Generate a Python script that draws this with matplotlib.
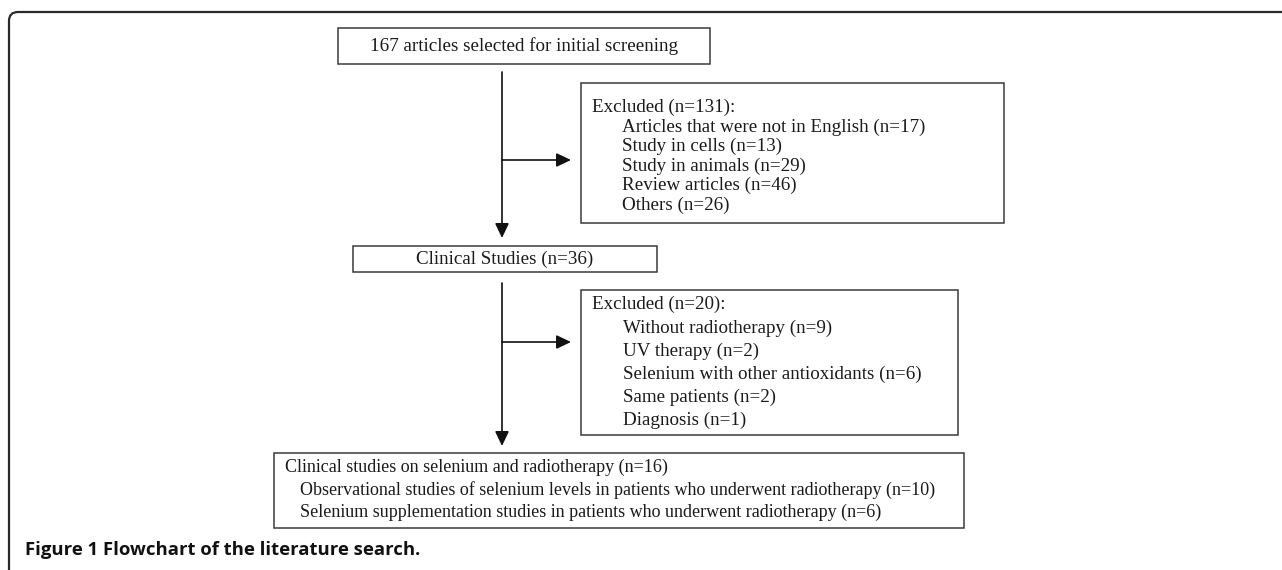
import matplotlib
matplotlib.use("Agg")
import matplotlib.pyplot as plt
from matplotlib.patches import Rectangle, FancyBboxPatch

# ---- content ----
top_text = "167 articles selected for initial screening"
excl1_title = "Excluded (n=131):"
excl1_items = ["Articles that were not in English (n=17)",
               "Study in cells (n=13)",
               "Study in animals (n=29)",
               "Review articles (n=46)",
               "Others (n=26)"]
mid_text = "Clinical Studies (n=36)"
excl2_title = "Excluded (n=20):"
excl2_items = ["Without radiotherapy (n=9)",
               "UV therapy (n=2)",
               "Selenium with other antioxidants (n=6)",
               "Same patients (n=2)",
               "Diagnosis (n=1)"]
final_title = "Clinical studies on selenium and radiotherapy (n=16)"
final_items = ["Observational studies of selenium levels in patients who underwent radiotherapy (n=10)",
               "Selenium supplementation studies in patients who underwent radiotherapy (n=6)"]
caption_bold = "Figure 1"
caption_rest = "Flowchart of the literature search."

W, H = 1282, 570
fig = plt.figure(figsize=(W / 100, H / 100), dpi=100)
ax = fig.add_axes([0, 0, 1, 1])
ax.set_xlim(0, W)
ax.set_ylim(H, 0)
ax.axis("off")

serif = "Liberation Serif"
tc = "#1a1a1a"
ec = "#3a3a3a"
fs = 13.7
fs_b = 13.0

# outer frame (rounded top-left corner, open to right/bottom)
frame = FancyBboxPatch((9, 12), 1600, 900, boxstyle="round,pad=0,rounding_size=9",
                       fill=False, lw=1.6, ec="#2a2a2a")
ax.add_patch(frame)

def box(x0, y0, x1, y1):
    ax.add_patch(Rectangle((x0, y0), x1 - x0, y1 - y0, fill=False, lw=1.1, ec=ec))

def arrow(x0, y0, x1, y1):
    ax.annotate("", xy=(x1, y1), xytext=(x0, y0),
                arrowprops=dict(arrowstyle="-|>,head_length=0.8,head_width=0.38",
                                mutation_scale=11, shrinkA=0, shrinkB=0,
                                lw=1.2, color="#111111"))

# boxes
box(338, 28, 710, 64)
ax.text(524, 46, top_text, ha="center", va="center", family=serif, fontsize=fs, color=tc)

box(581, 83, 1004, 223)
ax.text(592, 107, excl1_title, ha="left", va="center", family=serif, fontsize=fs, color=tc)
for i, s in enumerate(excl1_items):
    ax.text(622, 127 + i * 19.6, s, ha="left", va="center", family=serif, fontsize=fs, color=tc)

box(353, 246, 657, 272)
ax.text(505, 259, mid_text, ha="center", va="center", family=serif, fontsize=fs, color=tc)

box(581, 290, 958, 435)
ax.text(592, 304, excl2_title, ha="left", va="center", family=serif, fontsize=fs, color=tc)
for i, s in enumerate(excl2_items):
    ax.text(623, 328 + i * 23.1, s, ha="left", va="center", family=serif, fontsize=fs, color=tc)

box(274, 453, 964, 528)
ax.text(285, 467, final_title, ha="left", va="center", family=serif, fontsize=fs_b, color=tc)
for i, s in enumerate(final_items):
    ax.text(300, 490 + i * 22.3, s, ha="left", va="center", family=serif, fontsize=fs_b, color=tc)

# connectors
arrow(502, 72, 502, 238)
arrow(502, 160, 571, 160)
arrow(502, 283, 502, 446)
arrow(502, 342, 571, 342)

# caption
t1 = ax.text(25, 550, caption_bold + " ", ha="left", va="center", family="Open Sans",
             fontweight="bold", fontsize=13.3, color="#111111")
fig.canvas.draw()
bb = t1.get_window_extent()
x_next = ax.transData.inverted().transform((bb.x1, bb.y0))[0]
ax.text(x_next, 550, caption_rest, ha="left", va="center", family="Open Sans",
        fontweight="bold", fontsize=13.3, color="#111111")

fig.savefig("out.png", dpi=100)
